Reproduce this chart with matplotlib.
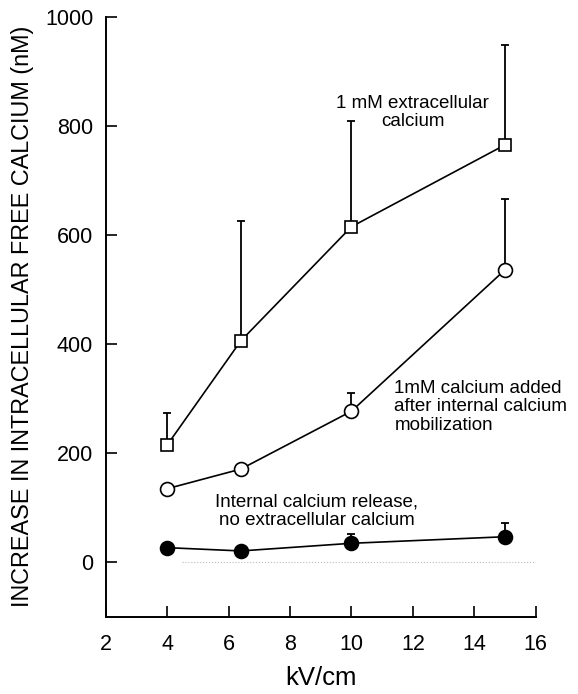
import numpy as np
import matplotlib.pyplot as plt

plt.rcParams.update({
    "font.family": ["Liberation Sans", "DejaVu Sans"],
    "xtick.direction": "in",
    "ytick.direction": "in",
    "axes.linewidth": 1.4,
})

field = [4, 6.4, 10, 15]  # kV/cm

extracellular = [215, 406, 615, 765]
extracellular_err = [59, 219, 193, 183]

added_after = [135, 171, 277, 536]
added_after_err = [0, 0, 34, 130]

internal = [27, 21, 35, 47]
internal_err = [6, 0, 17, 26]

fig = plt.figure(figsize=(5.78, 6.94), dpi=100)
ax = fig.add_axes([0.1829, 0.111, 0.7439, 0.865])

series = [
    (extracellular, extracellular_err, "s", "white", 9),
    (added_after, added_after_err, "o", "white", 10),
    (internal, internal_err, "o", "black", 10),
]
for vals, err, mk, face, ms in series:
    vals = np.array(vals, dtype=float)
    err = np.array(err, dtype=float)
    ax.errorbar(field, vals, yerr=[np.zeros_like(err), err], fmt="none",
                ecolor="black", elinewidth=1.3, capsize=3, capthick=1.3, zorder=1)
    ax.plot(field, vals, color="black", lw=1.2, marker=mk, markersize=ms,
            markerfacecolor=face, markeredgecolor="black", markeredgewidth=1.2,
            zorder=3)

# faint zero reference line
ax.plot([4.5, 16], [0, 0], color="#bbbbbb", lw=0.8, ls=":", zorder=0)

ax.text(12, 825, "1 mM extracellular\ncalcium", ha="center", va="center",
        fontsize=13.5, linespacing=1.1)
ax.text(11.4, 285, "1mM calcium added\nafter internal calcium\nmobilization",
        ha="left", va="center", fontsize=13.5, linespacing=1.1)
ax.text(8.87, 93, "Internal calcium release,\nno extracellular calcium",
        ha="center", va="center", fontsize=13.5, linespacing=1.1)

ax.set_xlim(2, 16)
ax.set_ylim(-100, 1000)
ax.set_xticks(range(2, 17, 2))
ax.set_yticks(range(0, 1001, 200))
ax.tick_params(axis="both", labelsize=15.5, length=8, width=1.2)
ax.tick_params(axis="x", pad=12)
ax.tick_params(axis="y", pad=9)

for side in ["top", "right"]:
    ax.spines[side].set_visible(False)

ax.set_xlabel("kV/cm", fontsize=18.5, labelpad=8)
ax.set_ylabel("INCREASE IN INTRACELLULAR FREE CALCIUM (nM)", fontsize=16.8,
              labelpad=8)

fig.savefig("out.png", dpi=100)
